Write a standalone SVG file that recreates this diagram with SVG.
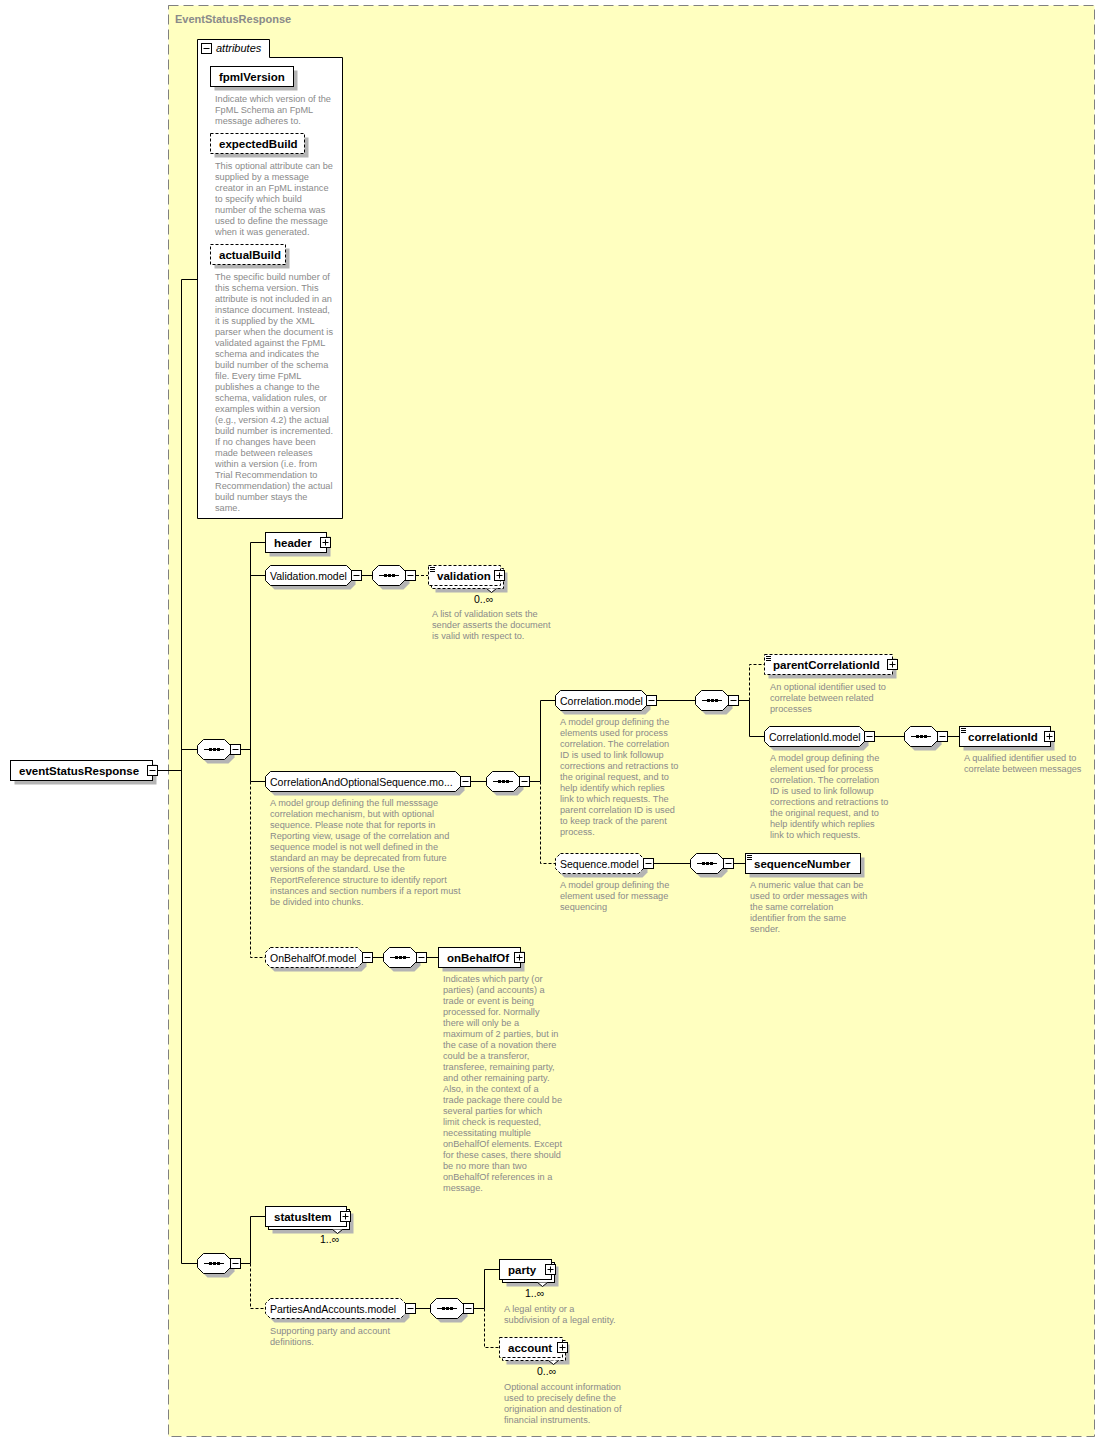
<svg xmlns="http://www.w3.org/2000/svg" width="1106" height="1442" viewBox="0 0 1106 1442">
<style>
.ln{stroke:#000;fill:none;stroke-width:1}
.dl{stroke:#000;fill:none;stroke-width:1;stroke-dasharray:3,2}
.box{fill:#fff;stroke:#000;stroke-width:1}
.dbox{fill:#fff;stroke:#000;stroke-width:1;stroke-dasharray:3,2}
.sh{fill:#b4b4b4;stroke:none}
.en{font-family:"Liberation Sans",Arial,sans-serif;font-size:11.5px;font-weight:bold;fill:#000}
.mg{font-family:"Liberation Sans",Arial,sans-serif;font-size:10.5px;fill:#000}
.oc{font-family:"Liberation Sans",Arial,sans-serif;font-size:10.5px;fill:#000}
.ds{font-family:"Liberation Sans",Arial,sans-serif;font-size:9.2px;fill:#8a8a8a}
.ttl{font-family:"Liberation Sans",Arial,sans-serif;font-size:11px;font-weight:bold;fill:#8a8a8a}
</style>
<defs>
<g id="minus"><rect x="0.5" y="0.5" width="10" height="10" fill="#fff" stroke="#000"/><path d="M2.5,5.5H8.5" stroke="#000"/></g>
<g id="plus"><rect x="0.5" y="0.5" width="10" height="10" fill="#fff" stroke="#000"/><path d="M2.5,5.5H8.5M5.5,2.5V8.5" stroke="#000"/></g>
<g id="tl"><path d="M2,2.5H7M2,4.5H7M2,6.5H7" stroke="#000" stroke-width="1"/></g>
<g id="seq">
<path class="sh" d="M10.5,4.5H31.5L37.5,10.5V18.5L31.5,24.5H10.5L4.5,18.5V10.5Z"/>
<path class="box" d="M6.5,0.5H27.5L33.5,6.5V14.5L27.5,20.5H6.5L0.5,14.5V6.5Z"/>
<path class="ln" d="M7,10.5H27"/>
<rect x="12" y="9" width="3" height="3" fill="#000"/><rect x="16" y="9" width="3" height="3" fill="#000"/><rect x="20" y="9" width="3" height="3" fill="#000"/>
<use href="#minus" x="33" y="5"/>
</g>
</defs>

<rect id="frame" x="168.5" y="5.5" width="926" height="1431" fill="#ffffc0" stroke="#808080" stroke-dasharray="10,5"/>
<text class="ttl" x="175" y="23">EventStatusResponse</text>

<g id="connectors">
<path class="ln" d="M158,770.5H181.5M181.5,279.5V1263.5M181.5,279.5H197.5M181.5,749.5H197M181.5,1263.5H197"/>
<path class="ln" d="M241,749.5H250.5M250.5,542.5V781.5M250.5,542.5H265M250.5,575.5H265M250.5,781.5H265"/>
<path class="dl" d="M250.5,781.5V957.5H265"/>
<path class="ln" d="M362,575.5H372"/>
<path class="dl" d="M416,575.5H428"/>
<path class="ln" d="M471,781.5H486M530,781.5H540.5M540.5,700.5V781.5M540.5,700.5H555"/>
<path class="dl" d="M540.5,781.5V863.5H555"/>
<path class="ln" d="M657,700.5H695M739,700.5H749.5M749.5,700.5V736.5H764"/>
<path class="dl" d="M749.5,700.5V664.5H764"/>
<path class="ln" d="M875,736.5H904M948,736.5H959"/>
<path class="ln" d="M654,863.5H690M734,863.5H745"/>
<path class="ln" d="M373,957.5H383M427,957.5H438"/>
<path class="ln" d="M241,1263.5H250.5M250.5,1216.5V1263.5M250.5,1216.5H265"/>
<path class="dl" d="M250.5,1263.5V1308.5H265"/>
<path class="ln" d="M416,1308.5H430M474,1308.5H484.5M484.5,1269.5V1308.5M484.5,1269.5H499"/>
<path class="dl" d="M484.5,1308.5V1347.5H499"/>
</g>

<g id="attributes">
<path d="M269.5,57.5H342.5V518.5H197.5V39.5H269.5Z" fill="#fff" stroke="#000"/>
<use href="#minus" x="201" y="43"/>
<text x="216" y="52" font-family="Liberation Sans, Arial, sans-serif" font-size="11" font-style="italic">attributes</text>
</g>

<g id="fpmlVersion" transform="translate(210,66)">
<rect class="sh" x="4.5" y="4.5" width="83" height="20"/>
<rect class="box" x="0.5" y="0.5" width="83" height="20"/>
<text class="en" x="9" y="14.5">fpmlVersion</text>
<text class="ds" x="5" y="36"><tspan x="5">Indicate which version of the</tspan><tspan x="5" dy="11">FpML Schema an FpML</tspan><tspan x="5" dy="11">message adheres to.</tspan></text>
</g>

<g id="expectedBuild" transform="translate(210,133)">
<rect class="sh" x="4.5" y="4.5" width="94" height="20"/>
<rect class="dbox" x="0.5" y="0.5" width="94" height="20"/>
<text class="en" x="9" y="14.5">expectedBuild</text>
<text class="ds" x="5" y="36"><tspan x="5">This optional attribute can be</tspan><tspan x="5" dy="11">supplied by a message</tspan><tspan x="5" dy="11">creator in an FpML instance</tspan><tspan x="5" dy="11">to specify which build</tspan><tspan x="5" dy="11">number of the schema was</tspan><tspan x="5" dy="11">used to define the message</tspan><tspan x="5" dy="11">when it was generated.</tspan></text>
</g>

<g id="actualBuild" transform="translate(210,244)">
<rect class="sh" x="4.5" y="4.5" width="75" height="20"/>
<rect class="dbox" x="0.5" y="0.5" width="75" height="20"/>
<text class="en" x="9" y="14.5">actualBuild</text>
<text class="ds" x="5" y="35.5"><tspan x="5">The specific build number of</tspan><tspan x="5" dy="11">this schema version. This</tspan><tspan x="5" dy="11">attribute is not included in an</tspan><tspan x="5" dy="11">instance document. Instead,</tspan><tspan x="5" dy="11">it is supplied by the XML</tspan><tspan x="5" dy="11">parser when the document is</tspan><tspan x="5" dy="11">validated against the FpML</tspan><tspan x="5" dy="11">schema and indicates the</tspan><tspan x="5" dy="11">build number of the schema</tspan><tspan x="5" dy="11">file. Every time FpML</tspan><tspan x="5" dy="11">publishes a change to the</tspan><tspan x="5" dy="11">schema, validation rules, or</tspan><tspan x="5" dy="11">examples within a version</tspan><tspan x="5" dy="11">(e.g., version 4.2) the actual</tspan><tspan x="5" dy="11">build number is incremented.</tspan><tspan x="5" dy="11">If no changes have been</tspan><tspan x="5" dy="11">made between releases</tspan><tspan x="5" dy="11">within a version (i.e. from</tspan><tspan x="5" dy="11">Trial Recommendation to</tspan><tspan x="5" dy="11">Recommendation) the actual</tspan><tspan x="5" dy="11">build number stays the</tspan><tspan x="5" dy="11">same.</tspan></text>
</g>

<g id="eventStatusResponse" transform="translate(10,760)">
<rect class="sh" x="4.5" y="4.5" width="142" height="20"/>
<rect class="box" x="0.5" y="0.5" width="142" height="20"/>
<text class="en" x="9" y="14.5">eventStatusResponse</text>
<use href="#minus" x="137" y="5"/>
</g>

<g id="seq1" transform="translate(197,739)"><use href="#seq"/></g>

<g id="header" transform="translate(265,532)">
<rect class="sh" x="4.5" y="4.5" width="61" height="20"/>
<rect class="box" x="0.5" y="0.5" width="61" height="20"/>
<text class="en" x="9" y="14.5">header</text>
<use href="#plus" x="55" y="5"/>
</g>

<g id="Validation.model" transform="translate(265,565)">
<path class="sh" transform="translate(4,4)" d="M5.5,0.5H81.5L86.5,5.5V15.5L81.5,20.5H5.5L0.5,15.5V5.5Z"/>
<path class="box" d="M5.5,0.5H81.5L86.5,5.5V15.5L81.5,20.5H5.5L0.5,15.5V5.5Z"/>
<text class="mg" x="5" y="14.5">Validation.model</text>
<use href="#minus" x="86" y="5"/>
</g>

<g id="seq2" transform="translate(372,565)"><use href="#seq"/></g>

<g id="validation" transform="translate(428,565)">
<rect class="sh" x="7.5" y="7.5" width="72" height="20"/>
<rect class="dbox" x="3.5" y="3.5" width="72" height="20"/>
<polyline points="58.5,23.5 63.5,27.5 68.5,23.5" fill="#fff" stroke="#000"/>
<rect class="dbox" x="0.5" y="0.5" width="72" height="20"/>
<use href="#tl"/>
<text class="en" x="9" y="14.5">validation</text>
<use href="#plus" x="66" y="5"/>
<text class="oc" x="46" y="38">0..∞</text>
<text class="ds" x="4" y="52"><tspan x="4">A list of validation sets the</tspan><tspan x="4" dy="11">sender asserts the document</tspan><tspan x="4" dy="11">is valid with respect to.</tspan></text>
</g>

<g id="CorrelationAndOptionalSequence.model" transform="translate(265,771)">
<path class="sh" transform="translate(4,4)" d="M5.5,0.5H190.5L195.5,5.5V15.5L190.5,20.5H5.5L0.5,15.5V5.5Z"/>
<path class="box" d="M5.5,0.5H190.5L195.5,5.5V15.5L190.5,20.5H5.5L0.5,15.5V5.5Z"/>
<text class="mg" x="5" y="14.5">CorrelationAndOptionalSequence.mo...</text>
<use href="#minus" x="195" y="5"/>
<text class="ds" x="5" y="35"><tspan x="5">A model group defining the full messsage</tspan><tspan x="5" dy="11">correlation mechanism, but with optional</tspan><tspan x="5" dy="11">sequence. Please note that for reports in</tspan><tspan x="5" dy="11">Reporting view, usage of the correlation and</tspan><tspan x="5" dy="11">sequence model is not well defined in the</tspan><tspan x="5" dy="11">standard an may be deprecated from future</tspan><tspan x="5" dy="11">versions of the standard. Use the</tspan><tspan x="5" dy="11">ReportReference structure to identify report</tspan><tspan x="5" dy="11">instances and section numbers if a report must</tspan><tspan x="5" dy="11">be divided into chunks.</tspan></text>
</g>

<g id="seq3" transform="translate(486,771)"><use href="#seq"/></g>

<g id="Correlation.model" transform="translate(555,690)">
<path class="sh" transform="translate(4,4)" d="M5.5,0.5H86.5L91.5,5.5V15.5L86.5,20.5H5.5L0.5,15.5V5.5Z"/>
<path class="box" d="M5.5,0.5H86.5L91.5,5.5V15.5L86.5,20.5H5.5L0.5,15.5V5.5Z"/>
<text class="mg" x="5" y="14.5">Correlation.model</text>
<use href="#minus" x="91" y="5"/>
<text class="ds" x="5" y="35"><tspan x="5">A model group defining the</tspan><tspan x="5" dy="11">elements used for process</tspan><tspan x="5" dy="11">correlation. The correlation</tspan><tspan x="5" dy="11">ID is used to link followup</tspan><tspan x="5" dy="11">corrections and retractions to</tspan><tspan x="5" dy="11">the original request, and to</tspan><tspan x="5" dy="11">help identify which replies</tspan><tspan x="5" dy="11">link to which requests. The</tspan><tspan x="5" dy="11">parent correlation ID is used</tspan><tspan x="5" dy="11">to keep track of the parent</tspan><tspan x="5" dy="11">process.</tspan></text>
</g>

<g id="seq4" transform="translate(695,690)"><use href="#seq"/></g>

<g id="parentCorrelationId" transform="translate(764,654)">
<rect class="sh" x="4.5" y="4.5" width="128" height="20"/>
<rect class="dbox" x="0.5" y="0.5" width="128" height="20"/>
<use href="#tl"/>
<text class="en" x="9" y="14.5">parentCorrelationId</text>
<use href="#plus" x="123" y="5"/>
<text class="ds" x="6" y="36"><tspan x="6">An optional identifier used to</tspan><tspan x="6" dy="11">correlate between related</tspan><tspan x="6" dy="11">processes</tspan></text>
</g>

<g id="CorrelationId.model" transform="translate(764,726)">
<path class="sh" transform="translate(4,4)" d="M5.5,0.5H95.5L100.5,5.5V15.5L95.5,20.5H5.5L0.5,15.5V5.5Z"/>
<path class="box" d="M5.5,0.5H95.5L100.5,5.5V15.5L95.5,20.5H5.5L0.5,15.5V5.5Z"/>
<text class="mg" x="5" y="14.5">CorrelationId.model</text>
<use href="#minus" x="100" y="5"/>
<text class="ds" x="6" y="35"><tspan x="6">A model group defining the</tspan><tspan x="6" dy="11">element used for process</tspan><tspan x="6" dy="11">correlation. The correlation</tspan><tspan x="6" dy="11">ID is used to link followup</tspan><tspan x="6" dy="11">corrections and retractions to</tspan><tspan x="6" dy="11">the original request, and to</tspan><tspan x="6" dy="11">help identify which replies</tspan><tspan x="6" dy="11">link to which requests.</tspan></text>
</g>

<g id="seq5" transform="translate(904,726)"><use href="#seq"/></g>

<g id="correlationId" transform="translate(959,726)">
<rect class="sh" x="4.5" y="4.5" width="91" height="20"/>
<rect class="box" x="0.5" y="0.5" width="91" height="20"/>
<use href="#tl"/>
<text class="en" x="9" y="14.5">correlationId</text>
<use href="#plus" x="85" y="5"/>
<text class="ds" x="5" y="35"><tspan x="5">A qualified identifier used to</tspan><tspan x="5" dy="11">correlate between messages</tspan></text>
</g>

<g id="Sequence.model" transform="translate(555,853)">
<path class="sh" transform="translate(4,4)" d="M5.5,0.5H83.5L88.5,5.5V15.5L83.5,20.5H5.5L0.5,15.5V5.5Z"/>
<path class="box" style="stroke-dasharray:3,2" d="M5.5,0.5H83.5L88.5,5.5V15.5L83.5,20.5H5.5L0.5,15.5V5.5Z"/>
<text class="mg" x="5" y="14.5">Sequence.model</text>
<use href="#minus" x="88" y="5"/>
<text class="ds" x="5" y="35"><tspan x="5">A model group defining the</tspan><tspan x="5" dy="11">element used for message</tspan><tspan x="5" dy="11">sequencing</tspan></text>
</g>

<g id="seq6" transform="translate(690,853)"><use href="#seq"/></g>

<g id="sequenceNumber" transform="translate(745,853)">
<rect class="sh" x="4.5" y="4.5" width="115" height="20"/>
<rect class="box" x="0.5" y="0.5" width="115" height="20"/>
<use href="#tl"/>
<text class="en" x="9" y="14.5">sequenceNumber</text>
<text class="ds" x="5" y="35"><tspan x="5">A numeric value that can be</tspan><tspan x="5" dy="11">used to order messages with</tspan><tspan x="5" dy="11">the same correlation</tspan><tspan x="5" dy="11">identifier from the same</tspan><tspan x="5" dy="11">sender.</tspan></text>
</g>

<g id="OnBehalfOf.model" transform="translate(265,947)">
<path class="sh" transform="translate(4,4)" d="M5.5,0.5H92.5L97.5,5.5V15.5L92.5,20.5H5.5L0.5,15.5V5.5Z"/>
<path class="box" style="stroke-dasharray:3,2" d="M5.5,0.5H92.5L97.5,5.5V15.5L92.5,20.5H5.5L0.5,15.5V5.5Z"/>
<text class="mg" x="5" y="14.5">OnBehalfOf.model</text>
<use href="#minus" x="97" y="5"/>
</g>

<g id="seq7" transform="translate(383,947)"><use href="#seq"/></g>

<g id="onBehalfOf" transform="translate(438,947)">
<rect class="sh" x="4.5" y="4.5" width="82" height="20"/>
<rect class="box" x="0.5" y="0.5" width="82" height="20"/>
<text class="en" x="9" y="14.5">onBehalfOf</text>
<use href="#plus" x="76" y="5"/>
<text class="ds" x="5" y="35"><tspan x="5">Indicates which party (or</tspan><tspan x="5" dy="11">parties) (and accounts) a</tspan><tspan x="5" dy="11">trade or event is being</tspan><tspan x="5" dy="11">processed for. Normally</tspan><tspan x="5" dy="11">there will only be a</tspan><tspan x="5" dy="11">maximum of 2 parties, but in</tspan><tspan x="5" dy="11">the case of a novation there</tspan><tspan x="5" dy="11">could be a transferor,</tspan><tspan x="5" dy="11">transferee, remaining party,</tspan><tspan x="5" dy="11">and other remaining party.</tspan><tspan x="5" dy="11">Also, in the context of a</tspan><tspan x="5" dy="11">trade package there could be</tspan><tspan x="5" dy="11">several parties for which</tspan><tspan x="5" dy="11">limit check is requested,</tspan><tspan x="5" dy="11">necessitating multiple</tspan><tspan x="5" dy="11">onBehalfOf elements. Except</tspan><tspan x="5" dy="11">for these cases, there should</tspan><tspan x="5" dy="11">be no more than two</tspan><tspan x="5" dy="11">onBehalfOf references in a</tspan><tspan x="5" dy="11">message.</tspan></text>
</g>

<g id="seq8" transform="translate(197,1253)"><use href="#seq"/></g>

<g id="statusItem" transform="translate(265,1206)">
<rect class="sh" x="7.5" y="7.5" width="81" height="20"/>
<rect class="box" x="3.5" y="3.5" width="81" height="20"/>
<polyline points="67.5,23.5 72.5,27.5 77.5,23.5" fill="#fff" stroke="#000"/>
<rect class="box" x="0.5" y="0.5" width="81" height="20"/>
<text class="en" x="9" y="14.5">statusItem</text>
<use href="#plus" x="75" y="5"/>
<text class="oc" x="55" y="37">1..∞</text>
</g>

<g id="PartiesAndAccounts.model" transform="translate(265,1298)">
<path class="sh" transform="translate(4,4)" d="M5.5,0.5H135.5L140.5,5.5V15.5L135.5,20.5H5.5L0.5,15.5V5.5Z"/>
<path class="box" style="stroke-dasharray:3,2" d="M5.5,0.5H135.5L140.5,5.5V15.5L135.5,20.5H5.5L0.5,15.5V5.5Z"/>
<text class="mg" x="5" y="14.5">PartiesAndAccounts.model</text>
<use href="#minus" x="140" y="5"/>
<text class="ds" x="5" y="36"><tspan x="5">Supporting party and account</tspan><tspan x="5" dy="11">definitions.</tspan></text>
</g>

<g id="seq9" transform="translate(430,1298)"><use href="#seq"/></g>

<g id="party" transform="translate(499,1259)">
<rect class="sh" x="7.5" y="7.5" width="52" height="20"/>
<rect class="box" x="3.5" y="3.5" width="52" height="20"/>
<polyline points="38.5,23.5 43.5,27.5 48.5,23.5" fill="#fff" stroke="#000"/>
<rect class="box" x="0.5" y="0.5" width="52" height="20"/>
<text class="en" x="9" y="14.5">party</text>
<use href="#plus" x="46" y="5"/>
<text class="oc" x="26" y="38">1..∞</text>
<text class="ds" x="5" y="53"><tspan x="5">A legal entity or a</tspan><tspan x="5" dy="11">subdivision of a legal entity.</tspan></text>
</g>

<g id="account" transform="translate(499,1337)">
<rect class="sh" x="7.5" y="7.5" width="63" height="20"/>
<rect class="dbox" x="3.5" y="3.5" width="63" height="20"/>
<polyline points="49.5,23.5 54.5,27.5 59.5,23.5" fill="#fff" stroke="#000"/>
<rect class="dbox" x="0.5" y="0.5" width="63" height="20"/>
<text class="en" x="9" y="14.5">account</text>
<use href="#plus" x="58" y="5"/>
<text class="oc" x="38" y="38">0..∞</text>
<text class="ds" x="5" y="53"><tspan x="5">Optional account information</tspan><tspan x="5" dy="11">used to precisely define the</tspan><tspan x="5" dy="11">origination and destination of</tspan><tspan x="5" dy="11">financial instruments.</tspan></text>
</g>
</svg>
